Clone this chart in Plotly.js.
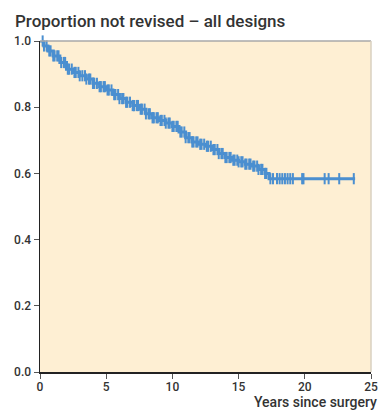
<!DOCTYPE html>
<html>
<head>
<meta charset="utf-8">
<script src="https://cdn.plot.ly/plotly-3.0.1.min.js"></script>
<style>html,body{margin:0;padding:0;background:#fff;}#chart{width:379px;height:410px;}</style>
</head>
<body>
<div id="chart"></div>
<script>
// Kaplan-Meier estimate: time (years) and proportion not revised
var years = [0, 0.3, 0.6, 1.0, 1.5, 2.0, 2.5, 3.0, 3.5, 4.0, 4.5, 5.0, 5.5, 6.0, 6.5, 7.0, 7.5,
             8.0, 8.5, 9.0, 9.5, 10.0, 10.5, 11.0, 11.5, 12.0, 12.5, 13.0, 13.5, 14.0, 14.5,
             15.0, 15.5, 16.0, 16.5, 17.0, 17.3, 23.8];
var survival = [1.000, 0.985, 0.970, 0.955, 0.935, 0.915, 0.905, 0.895, 0.885, 0.872, 0.862, 0.852,
                0.838, 0.826, 0.815, 0.805, 0.794, 0.780, 0.768, 0.760, 0.752, 0.742, 0.725,
                0.708, 0.695, 0.688, 0.682, 0.672, 0.660, 0.648, 0.640, 0.635, 0.628, 0.622,
                0.612, 0.600, 0.584, 0.584];
// Censored observations (years)
var censorYears = [0.2, 0.3, 0.5, 0.7, 0.8, 1.0, 1.1, 1.3, 1.4, 1.6, 1.8, 1.9, 2.1, 2.2, 2.4, 2.6,
                   2.7, 2.9, 3.0, 3.2, 3.4, 3.5, 3.7, 3.8, 4.0, 4.1, 4.3, 4.5, 4.6, 4.8, 4.9, 5.1,
                   5.2, 5.4, 5.6, 5.7, 5.9, 6.0, 6.2, 6.3, 6.5, 6.6, 6.8, 7.0, 7.1, 7.3, 7.4, 7.6,
                   7.7, 7.9, 8.0, 8.2, 8.3, 8.5, 8.6, 8.8, 8.9, 9.1, 9.2, 9.4, 9.5, 9.7, 9.8, 10.0,
                   10.1, 10.3, 10.4, 10.6, 10.7, 10.9, 11.0, 11.2, 11.3, 11.5, 11.6, 11.8, 11.9,
                   12.1, 12.2, 12.4, 12.6, 12.7, 12.9, 13.1, 13.2, 13.4, 13.5, 13.7, 13.8, 14.0,
                   14.1, 14.3, 14.4, 14.6, 14.7, 14.9, 15.0, 15.2, 15.3, 15.5, 15.6, 15.8, 15.9,
                   16.1, 16.2, 16.4, 16.5, 16.7, 16.8, 17.0, 17.1,
                   17.4, 17.6, 17.9, 18.1, 18.3, 18.5, 18.7, 18.9, 19.1, 19.8, 19.9, 21.5,
                   21.8, 22.6, 23.7];
var xTicks = [0, 5, 10, 15, 20, 25];
var yTicks = [0.0, 0.2, 0.4, 0.6, 0.8, 1.0];

function survAt(t) {
  var s = survival[0];
  for (var i = 0; i < years.length; i++) { if (years[i] <= t) s = survival[i]; }
  return s;
}
var censorSurv = censorYears.map(survAt);

var blue = '#4b8fd0';
var traces = [
  { x: years, y: survival, type: 'scatter', mode: 'lines', line: { shape: 'hv', color: blue, width: 3 },
    hoverinfo: 'skip', cliponaxis: false },
  { x: censorYears, y: censorSurv, type: 'scatter', mode: 'markers',
    marker: { symbol: 'line-ns-open', size: 8, color: blue, line: { color: blue, width: 2 } },
    hoverinfo: 'skip', cliponaxis: false }
];

var font = 'Roboto, Liberation Sans, Arial, sans-serif';
var layout = {
  width: 379, height: 410,
  margin: { l: 40, r: 8, t: 41, b: 38 },
  paper_bgcolor: '#ffffff', plot_bgcolor: '#feefd3',
  showlegend: false,
  font: { family: font, color: '#333333', size: 12 },
  xaxis: {
    range: [0, 25], tickvals: xTicks, ticktext: xTicks.map(String),
    showgrid: false, zeroline: false, showline: true, linecolor: '#222222', linewidth: 1.5,
    ticks: 'outside', ticklen: 5, tickcolor: '#555555', ticklabelstandoff: -2,
    tickfont: { family: font, size: 12, color: '#333333', weight: 500 },
    fixedrange: true
  },
  yaxis: {
    range: [0, 1], tickvals: yTicks, ticktext: yTicks.map(function (v) { return v.toFixed(1); }),
    showgrid: false, zeroline: false, showline: true, linecolor: '#222222', linewidth: 1.5,
    ticks: 'outside', ticklen: 5, tickcolor: '#555555',
    tickfont: { family: font, size: 12, color: '#333333', weight: 500 },
    fixedrange: true
  },
  shapes: [
    { type: 'line', xref: 'paper', yref: 'paper', x0: 0, x1: 1, y0: 1, y1: 1, line: { color: '#a8a8a8', width: 1.5 } },
    { type: 'line', xref: 'paper', yref: 'paper', x0: 1, x1: 1, y0: 0, y1: 1, line: { color: '#d8d0c0', width: 1.5 } }
  ],
  annotations: [
    { text: 'Proportion not revised – all designs', xref: 'paper', yref: 'paper', x: -0.082, y: 1.0,
      xanchor: 'left', yanchor: 'bottom', yshift: 8, showarrow: false,
      font: { family: font, size: 17, color: '#333333', weight: 500 } },
    { text: 'Years since surgery', xref: 'paper', yref: 'paper', x: 1.02, y: 0,
      xanchor: 'right', yanchor: 'top', yshift: -21, showarrow: false, borderpad: 0,
      font: { family: font, size: 14, color: '#333333', weight: 500 } }
  ]
};

Plotly.newPlot('chart', traces, layout, { staticPlot: true, displayModeBar: false });
</script>
</body>
</html>
